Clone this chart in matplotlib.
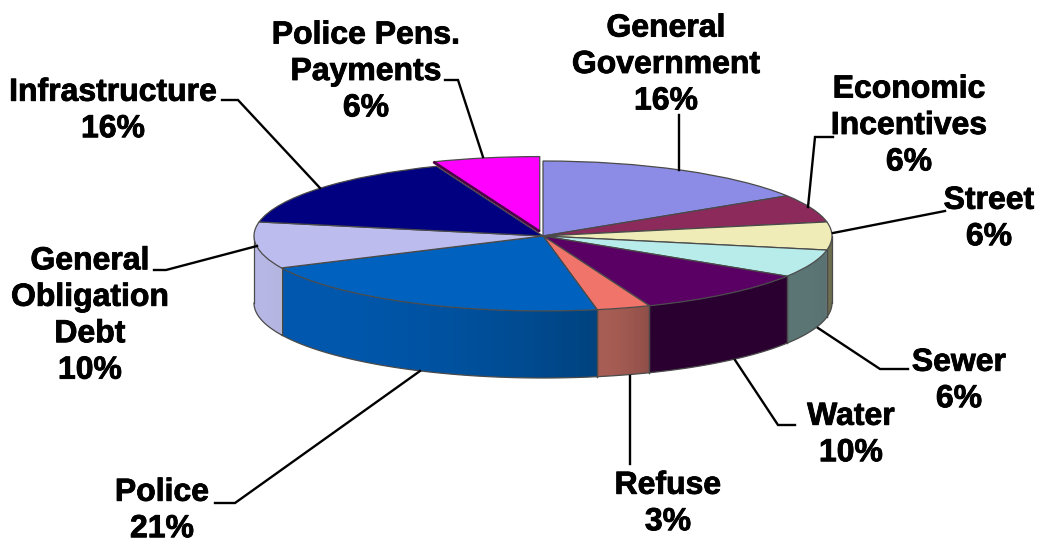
import numpy as np
import matplotlib
matplotlib.use('Agg')
import matplotlib.pyplot as plt
import matplotlib.patheffects as pe
from matplotlib.colors import to_rgb

W, H = 1039, 544

names = ['General\nGovernment', 'Economic\nIncentives', 'Street', 'Sewer', 'Water',
         'Refuse', 'Police', 'General\nObligation\nDebt', 'Infrastructure', 'Police Pens.\nPayments']
shares = [16, 6, 6, 6, 10, 3, 21, 10, 16, 6]
explode = [0, 0, 0, 0, 0, 0, 0, 0, 0, 0.06]
top_colors = ['#8c8ce6', '#8c2a5c', '#f0ecb8', '#b8ecea', '#5a0064',
              '#f0746a', '#0062be', '#bcbcee', '#000080', '#ff00ff']
# side shading, left end and right end of each rim piece
side_left = ['#8c8ce6', '#8c2a5c', '#6e6e50', '#5c7676', '#2a0030',
             '#a85e54', '#0058ae', '#b8b8e6', '#000080', '#ff00ff']
side_right = ['#8c8ce6', '#8c2a5c', '#6e6e50', '#5a7272', '#2a0030',
              '#8e4e48', '#00437f', '#b4b4e0', '#000080', '#ff00ff']

# label centre (px), leader polyline (px)
label_xy = [(666, 65), (909, 126), (989, 219), (959, 381), (851, 435),
            (668, 504), (162, 511), (90, 316), (113, 111), (366, 72)]
leaders = [
    [(679, 115), (679, 170)],
    [(833, 137), (815, 137), (808, 207)],
    [(945, 211), (833, 233)],
    [(908, 369), (880, 369), (818, 328)],
    [(795, 425), (778, 425), (735, 360)],
    [(630, 464), (630, 376)],
    [(215, 503), (235, 503), (420, 371)],
    [(154, 270), (166, 270), (257, 246)],
    [(222, 100), (238, 100), (320, 188)],
    [(445, 80), (458, 80), (483, 157)],
]

# ellipse of the pie top in pixels
cx, cy, rx, ry, depth = 543, 236, 289, 75, 67

fig = plt.figure(figsize=(W / 100, H / 100), dpi=100)
ax = fig.add_axes([0, 0, 1, 1])
edge = '#4a4a4a'
wedges, _ = ax.pie(shares, colors=top_colors, startangle=90, counterclock=False,
                   explode=explode, wedgeprops=dict(edgecolor=edge, linewidth=0.9))
d = depth / ry

# rim of the pie: a horizontal gradient image clipped to each visible piece
for w, cl, cr in zip(wedges, side_left, side_right):
    t1 = w.theta1 % 360
    t2 = t1 + (w.theta2 - w.theta1)
    a, b = max(t1, 180), min(t2, 360)
    if a >= b:
        continue
    th = np.radians(np.linspace(a, b, 120))
    xs, ys = np.cos(th), np.sin(th)
    c0, c1 = np.array(to_rgb(cl)), np.array(to_rgb(cr))
    p = np.linspace(0, 1, 128)[:, None] ** 1.8
    grad = (c0 + (c1 - c0) * p)[None, :, :]
    poly = ax.fill(np.r_[xs, xs[::-1]], np.r_[ys, ys[::-1] - d], fc='none', ec='none', zorder=0.4)[0]
    im = ax.imshow(grad, extent=(xs.min(), xs.max(), (ys - d).min(), ys.max()), aspect='auto',
                   interpolation='bilinear', zorder=0.5)
    im.set_clip_path(poly)
    ax.plot(xs, ys - d, color=edge, lw=0.9, zorder=0.6)
    ax.plot([xs[0]] * 2, [ys[0], ys[0] - d], color=edge, lw=0.9, zorder=0.6)
    ax.plot([xs[-1]] * 2, [ys[-1], ys[-1] - d], color=edge, lw=0.9, zorder=0.6)

ax.set_aspect('auto')
ax.set_xlim(-cx / rx, (W - cx) / rx)
ax.set_ylim((cy - H) / ry, cy / ry)

# dark cut face along the lower edge of the pulled out slice
w = wedges[-1]
r = np.radians(w.theta2)
ax.plot([w.center[0], w.center[0] + np.cos(r)], [w.center[1], w.center[1] + np.sin(r)],
        color='#4c0048', lw=2.0, zorder=3, solid_capstyle='butt')

# labels and leaders in pixel coordinates
ov = fig.add_axes([0, 0, 1, 1], zorder=5)
ov.set_xlim(0, W)
ov.set_ylim(H, 0)
ov.axis('off')
for name, share, (x, y), pts in zip(names, shares, label_xy, leaders):
    xs, ys = zip(*pts)
    ov.plot(xs, ys, color='black', lw=1.7, solid_joinstyle='miter')
    ov.text(x, y, '%s\n%d%%' % (name, share), ha='center', va='center',
            fontfamily='Liberation Sans', fontweight='bold', fontsize=23,
            linespacing=1.28, color='black',
            path_effects=[pe.withStroke(linewidth=0.6, foreground='black')])

fig.savefig('out.png', dpi=100, facecolor='white')
